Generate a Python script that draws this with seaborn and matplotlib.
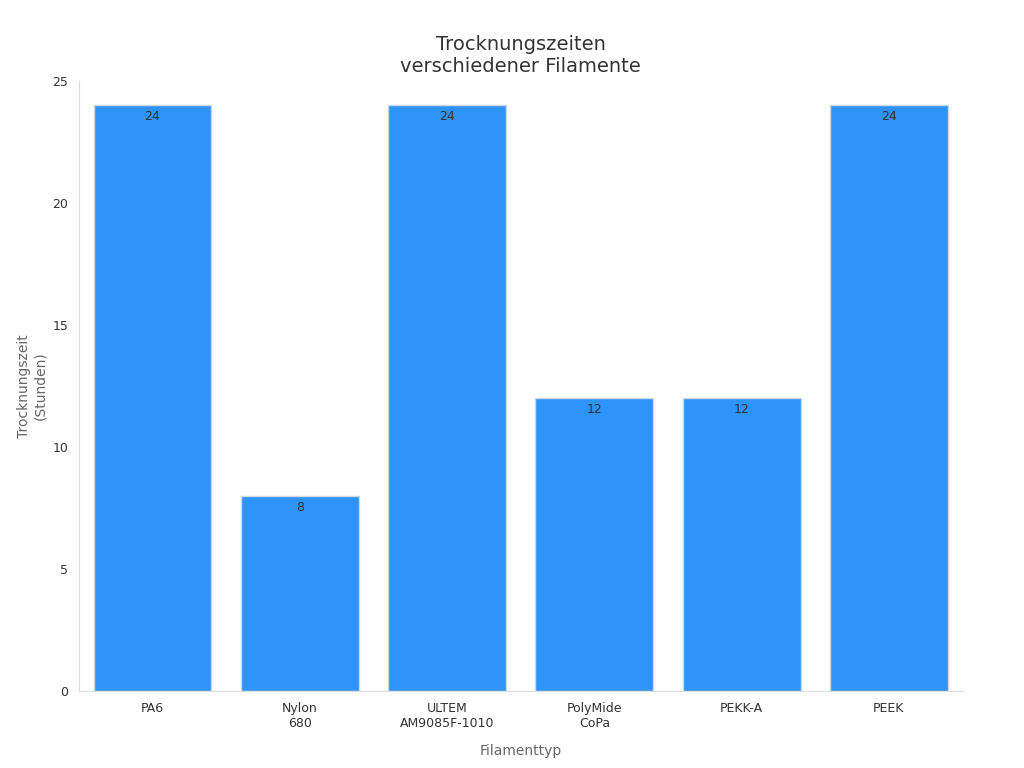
import matplotlib
matplotlib.use("Agg")
import matplotlib.pyplot as plt
import seaborn as sns
import pandas as pd

categories = ["PA6", "Nylon\n680", "ULTEM\nAM9085F-1010", "PolyMide\nCoPa", "PEKK-A", "PEEK"]
values = [24, 8, 24, 12, 12, 24]

sns.set_style("white")
plt.rcParams['font.family'] = ['DejaVu Sans']
df = pd.DataFrame({"cat": categories, "val": values})
fig, ax = plt.subplots(figsize=(10.24, 7.68), dpi=100)
sns.barplot(data=df, x="cat", y="val", color="#2e93fa", saturation=1, width=0.8,
            edgecolor="#d0d8e0", linewidth=1, ax=ax)
for i, v in enumerate(values):
    ax.text(i, v - 0.2, str(v), ha="center", va="top", fontsize=9, color="#333333")
ax.set_ylim(0, 25)
ax.set_xlim(-0.5, 5.5)
ax.set_title("Trocknungszeiten\nverschiedener Filamente", fontsize=14, color="#333333")
ax.set_xlabel("Filamenttyp", fontsize=10, color="#666666", labelpad=10)
ax.set_ylabel("Trocknungszeit\n(Stunden)", fontsize=10, color="#666666")
ax.tick_params(axis="both", labelsize=9, colors="#333333", length=4)
ax.tick_params(axis="both", color="#999999")
for s in ["top", "right"]:
    ax.spines[s].set_visible(False)
for s in ["left", "bottom"]:
    ax.spines[s].set_color("#dddddd")
plt.subplots_adjust(left=0.077, right=0.94, top=0.895, bottom=0.1)
fig.savefig("out.png", dpi=100)
